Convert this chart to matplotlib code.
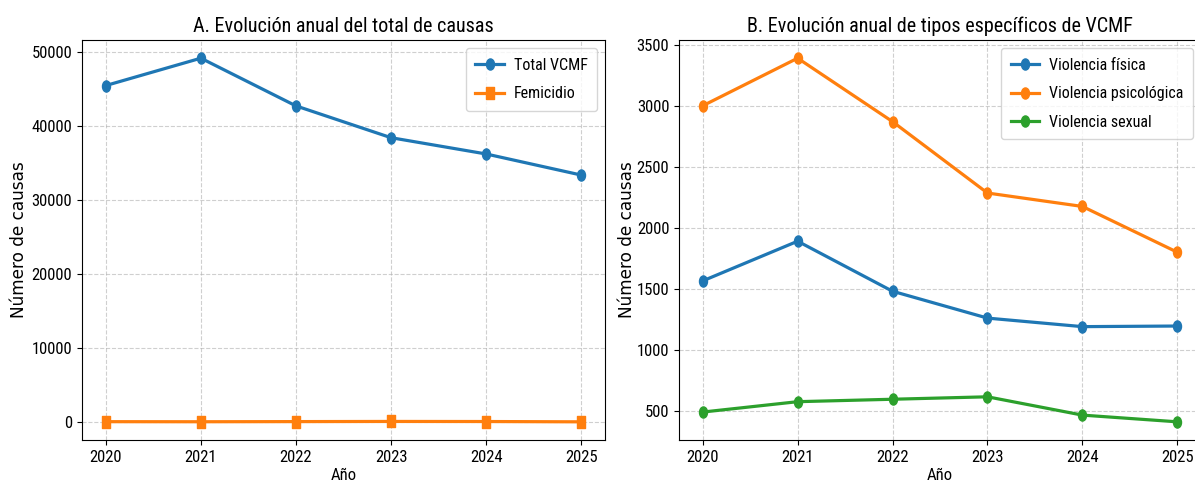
import matplotlib
matplotlib.use("Agg")
import matplotlib.pyplot as plt
from matplotlib import font_manager
from matplotlib.path import Path
from matplotlib.transforms import Affine2D

years = [2020, 2021, 2022, 2023, 2024, 2025]
total_vcmf = [45500, 49200, 42750, 38450, 36250, 33400]
femicidio = [60, 50, 70, 90, 80, 40]
v_fisica = [1565, 1890, 1480, 1260, 1190, 1195]
v_psico = [3000, 3390, 2870, 2285, 2175, 1800]
v_sexual = [490, 575, 595, 615, 465, 410]

names = {f.name for f in font_manager.fontManager.ttflist}
cond = 'DejaVu Sans'
for cand in ["Liberation Sans Narrow", "Roboto Condensed", "DejaVu Sans Condensed"]:
    if cand in names:
        cond = cand
        break
plt.rcParams['font.family'] = ['DejaVu Sans']

# markers squeezed horizontally like the reference
circ = Path.unit_circle().transformed(Affine2D().scale(0.72, 1.0))
sq = Path.unit_rectangle().transformed(Affine2D().translate(-0.5, -0.5).scale(0.72, 1.0))

fig = plt.figure(figsize=(11.95, 4.88), dpi=100)
ax1 = fig.add_axes([82/1195, 48/488, (605-82)/1195, 400/488])
ax2 = fig.add_axes([679/1195, 48/488, (1201-679)/1195, 400/488])

lw, ms = 2.3, 8
ax1.plot(years, total_vcmf, marker=circ, lw=lw, ms=ms, label='Total VCMF')
ax1.plot(years, femicidio, marker=sq, lw=lw, ms=ms, label='Femicidio')
ax2.plot(years, v_fisica, marker=circ, lw=lw, ms=ms, label='Violencia física')
ax2.plot(years, v_psico, marker=circ, lw=lw, ms=ms, label='Violencia psicológica')
ax2.plot(years, v_sexual, marker=circ, lw=lw, ms=ms, label='Violencia sexual')

ax1.set_title('A. Evolución anual del total de causas', fontsize=14.5, family=cond)
ax2.set_title('B. Evolución anual de tipos específicos de VCMF', fontsize=14.5, family=cond)
for ax, lx in ((ax1, -0.104), (ax2, -0.082)):
    ax.set_xlabel('Año', fontsize=12, family=cond, labelpad=2)
    ax.set_ylabel('Número de causas', fontsize=12.2)
    ax.yaxis.set_label_coords(lx, 0.5)
    ax.set_xticks(years)
    ax.grid(True, linestyle='--', alpha=0.6)
    for lab in ax.get_xticklabels() + ax.get_yticklabels():
        lab.set_fontfamily(cond)
        lab.set_fontsize(12)
    ax.legend(loc='upper right', prop=dict(family=cond, size=11.5),
              handlelength=1.8, handletextpad=0.6, labelspacing=0.85,
              borderpad=0.6)

fig.savefig('out.png', dpi=100)
